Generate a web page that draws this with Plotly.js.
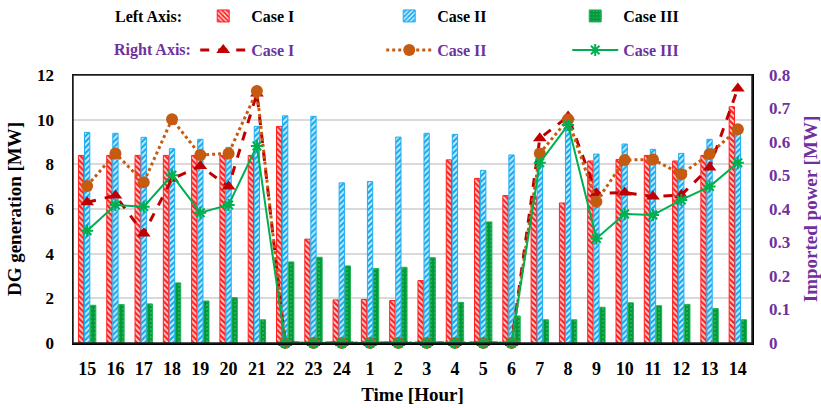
<!DOCTYPE html>
<html>
<head>
<meta charset="utf-8">
<script src="https://cdn.plot.ly/plotly-3.0.1.min.js"></script>
<style>html,body{margin:0;padding:0;background:#fff;}#chart{width:821px;height:408px;}</style>
</head>
<body>
<div id="chart"></div>
<script>
const hours = ['15','16','17','18','19','20','21','22','23','24','1','2','3','4','5','6','7','8','9','10','11','12','13','14'];

// Left axis: DG generation [MW]
const dgCase1 = [8.4,8.4,8.4,8.4,8.4,8.4,8.4,9.7,4.65,1.93,1.95,1.9,2.8,8.2,7.37,6.6,6.58,6.27,8.15,8.22,8.4,8.15,8.4,10.58];
const dgCase2 = [9.43,9.39,9.21,8.7,9.12,8.76,9.7,10.17,10.15,7.17,7.23,9.22,9.39,9.34,7.73,8.42,8.7,9.9,8.46,8.91,8.67,8.49,9.12,9.5];
const dgCase3 = [1.69,1.72,1.75,2.69,1.88,2.03,1.04,3.63,3.84,3.45,3.33,3.39,3.82,1.82,5.42,1.21,1.04,1.04,1.6,1.8,1.67,1.73,1.54,1.04];

// Right axis: Imported power [MW]
const impCase1 = [0.42,0.44,0.327,0.49,0.528,0.467,0.745,0,0,0,0,0,0,0,0,0,0.611,0.676,0.447,0.449,0.437,0.442,0.524,0.76];
const impCase2 = [0.469,0.566,0.48,0.668,0.561,0.566,0.752,0,0,0,0,0,0,0,0,0,0.566,0.668,0.422,0.546,0.548,0.504,0.564,0.638];
const impCase3 = [0.335,0.412,0.407,0.501,0.389,0.412,0.588,0,0,0,0,0,0,0,0,0,0.538,0.651,0.312,0.385,0.382,0.427,0.467,0.538];

const FONT = 'Liberation Serif, Times New Roman, serif';
const PURPLE = '#7030a0';

const traces = [
  {type:'bar', x:hours, y:dgCase1, name:'Case I', yaxis:'y', legend:'legend',
   marker:{color:'#ff2a2a', line:{color:'#ff2020', width:1},
     pattern:{shape:'\\', fgcolor:'#ff2020', bgcolor:'#ffd8d8', size:4, solidity:0.55}}},
  {type:'bar', x:hours, y:dgCase2, name:'Case II', yaxis:'y', legend:'legend',
   marker:{color:'#1aaff0', line:{color:'#1fb0f0', width:1},
     pattern:{shape:'/', fgcolor:'#15aaf0', bgcolor:'#d8f0ff', size:4, solidity:0.55}}},
  {type:'bar', x:hours, y:dgCase3, name:'Case III', yaxis:'y', legend:'legend',
   marker:{color:'#00a040', line:{color:'#20b050', width:1},
     pattern:{shape:'.', fgcolor:'#50c070', bgcolor:'#009a3c', size:4, solidity:0.15}}},
  {type:'scatter', mode:'lines+markers', x:hours, y:impCase1, yaxis:'y2', legend:'legend2',
   name:'<span style="color:#7030a0">Case I</span>', cliponaxis:false,
   line:{color:'#c00000', width:3, dash:'dash'},
   marker:{symbol:'triangle-up', size:12, color:'#c00000'}},
  {type:'scatter', mode:'lines+markers', x:hours, y:impCase2, yaxis:'y2', legend:'legend2',
   name:'<span style="color:#7030a0">Case II</span>', cliponaxis:false,
   line:{color:'#c55a11', width:3, dash:'dot'},
   marker:{symbol:'circle', size:12, color:'#c55a11'}},
  {type:'scatter', mode:'lines+markers', x:hours, y:impCase3, yaxis:'y2', legend:'legend2',
   name:'<span style="color:#7030a0">Case III</span>', cliponaxis:false,
   line:{color:'#00b050', width:2},
   marker:{symbol:'asterisk-open', size:10, color:'#00b050', line:{color:'#00b050', width:2}}}
];

const legendCommon = {
  orientation:'h', xanchor:'left', yanchor:'middle', entrywidth:125, entrywidthmode:'pixels',
  bgcolor:'rgba(0,0,0,0)', itemwidth:46, itemclick:false, itemdoubleclick:false,
  font:{family:FONT, size:16, weight:'bold', color:'#000'}
};

const layout = {
  width:821, height:408,
  margin:{l:73, r:69, t:75, b:65, pad:0, autoexpand:false},
  paper_bgcolor:'#fff', plot_bgcolor:'#fff',
  font:{family:FONT, weight:'bold', color:'#000'},
  barmode:'group', bargap:0.36, bargroupgap:0.12,
  showlegend:true,
  legend:Object.assign({}, legendCommon, {x:0.18, y:1.22}),
  legend2:Object.assign({}, legendCommon, {x:0.18, y:1.093}),
  xaxis:{type:'category', range:[-0.5, 23.5], showline:true, linecolor:'#000', linewidth:1.5, mirror:true, automargin:false,
    ticks:'', tickfont:{family:FONT, size:18, weight:'bold', color:'#000'}, ticklabelstandoff:9,
    title:{text:'Time [Hour]', font:{family:FONT, size:19, weight:'bold', color:'#000'}, standoff:9}},
  yaxis:{range:[0,12], dtick:2, showline:true, linecolor:'#000', linewidth:1.5, mirror:true, automargin:false,
    showgrid:true, gridcolor:'#d9d9d9', gridwidth:2, zeroline:false, ticks:'',
    tickfont:{family:FONT, size:17, weight:'bold', color:'#000'}, ticklabelstandoff:14,
    title:{text:'DG generation [MW]', font:{family:FONT, size:19, weight:'bold', color:'#000'}, standoff:10}},
  yaxis2:{range:[0,0.8], dtick:0.1, overlaying:'y', side:'right', showgrid:false, zeroline:false, automargin:false,
    showline:false, ticks:'', tickformat:'.1~f',
    tickfont:{family:FONT, size:17, weight:'bold', color:PURPLE}, ticklabelstandoff:16,
    title:{text:'Imported power [MW]', font:{family:FONT, size:19, weight:'bold', color:PURPLE}, standoff:15}},
  shapes:[
    {type:'rect', xref:'paper', yref:'paper', x0:0, x1:1, y0:0, y1:1, line:{color:'#222', width:1.5}, fillcolor:'rgba(0,0,0,0)', layer:'above'}
  ],
  annotations:[
    {xref:'paper', yref:'paper', x:0.059, y:1.22, xanchor:'left', yanchor:'middle', showarrow:false,
     text:'Left Axis:', font:{family:FONT, size:16, weight:'bold', color:'#000'}},
    {xref:'paper', yref:'paper', x:0.057, y:1.093, xanchor:'left', yanchor:'middle', showarrow:false,
     text:'Right Axis:', font:{family:FONT, size:16, weight:'bold', color:PURPLE}}
  ]
};

Plotly.newPlot('chart', traces, layout, {displayModeBar:false, staticPlot:true});
</script>
</body>
</html>
